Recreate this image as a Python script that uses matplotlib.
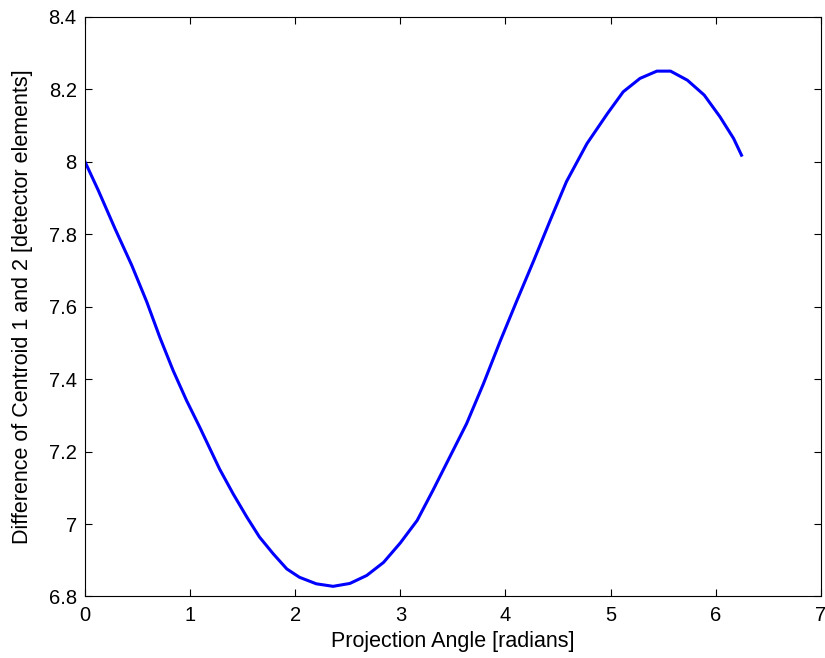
import matplotlib
matplotlib.use("Agg")
import matplotlib.pyplot as plt

# values
angle = [0.0, 0.128, 0.286, 0.445, 0.588, 0.711, 0.838, 0.966, 1.092,
         1.28, 1.41, 1.54, 1.66, 1.79, 1.92, 2.04, 2.20, 2.36,
         2.52, 2.68, 2.84, 3.0, 3.16, 3.31, 3.47, 3.63, 3.79, 3.95,
         4.109, 4.27, 4.425, 4.58, 4.775, 4.97, 5.12, 5.28,
         5.44, 5.57, 5.73, 5.89, 6.04, 6.17, 6.245]
diff = [8.0, 7.920, 7.815, 7.714, 7.613, 7.516, 7.424, 7.341, 7.267,
        7.152, 7.083, 7.019, 6.964, 6.918, 6.876, 6.853, 6.835, 6.828,
        6.836, 6.858, 6.894, 6.948, 7.010, 7.093, 7.185, 7.277, 7.387, 7.505,
        7.617, 7.728, 7.838, 7.945, 8.050, 8.133, 8.193, 8.230,
        8.250, 8.250, 8.225, 8.184, 8.124, 8.064, 8.018]

xticks = [0, 1, 2, 3, 4, 5, 6, 7]
yticks = [6.8, 7.0, 7.2, 7.4, 7.6, 7.8, 8.0, 8.2, 8.4]
ytick_labels = ["6.8", "7", "7.2", "7.4", "7.6", "7.8", "8", "8.2", "8.4"]

plt.rcParams['font.family'] = ['Liberation Sans', 'DejaVu Sans']

fig = plt.figure(figsize=(8.25, 6.58), dpi=100)
ax = fig.add_axes([0.103, 0.0935, 0.892, 0.881])

ax.plot(angle, diff, color='#0000ff', linewidth=2.2)

ax.set_xlim(0, 7)
ax.set_ylim(6.8, 8.4)
ax.set_xticks(xticks)
ax.set_xticklabels([str(t) for t in xticks])
ax.set_yticks(yticks)
ax.set_yticklabels(ytick_labels)
ax.tick_params(direction='in', top=True, right=True, length=5, width=0.8,
               labelsize=14.5)
ax.tick_params(axis='x', pad=7)
ax.tick_params(axis='y', pad=6)
for s in ax.spines.values():
    s.set_linewidth(0.8)

ax.set_xlabel('Projection Angle [radians]', fontsize=15.5, labelpad=4)
ax.set_ylabel('Difference of Centroid 1 and 2 [detector elements]', fontsize=15.5, labelpad=11)

fig.savefig('out.png', dpi=100)
